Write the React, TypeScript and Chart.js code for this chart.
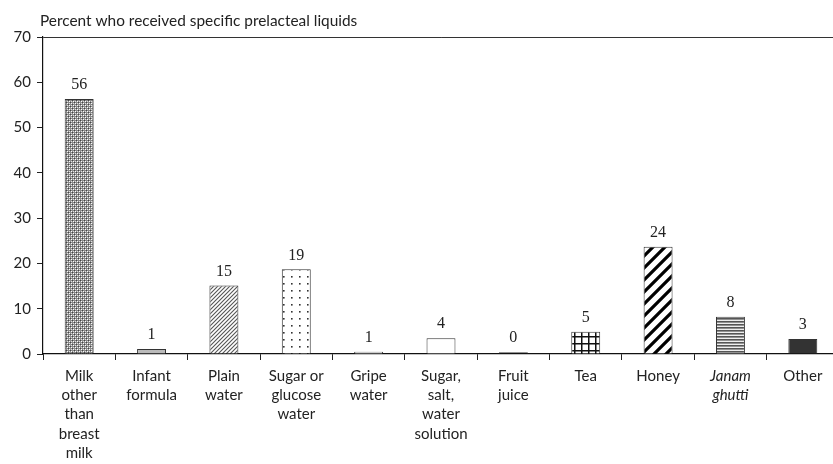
import React, { useEffect, useRef } from "react";
import { Chart, registerables } from "chart.js";

Chart.register(...registerables);

const categories: string[][] = [
  ["Milk", "other", "than", "breast", "milk"],
  ["Infant", "formula"],
  ["Plain", "water"],
  ["Sugar or", "glucose", "water"],
  ["Gripe", "water"],
  ["Sugar,", "salt,", "water", "solution"],
  ["Fruit", "juice"],
  ["Tea"],
  ["Honey"],
  ["Janam", "ghutti"],
  ["Other"],
];
const values: number[] = [56.3, 1.1, 15.1, 18.7, 0.5, 3.5, 0.4, 4.9, 23.7, 8.2, 3.3];
const valueLabels: string[] = ["56", "1", "15", "19", "1", "4", "0", "5", "24", "8", "3"];
const yTicks: number[] = [0, 10, 20, 30, 40, 50, 60, 70];
const titleText = "Percent who received specific prelacteal liquids";
const italicIndex = 9;

function tile(w: number, h: number, draw: (c: CanvasRenderingContext2D) => void): CanvasPattern | string {
  const cv = document.createElement("canvas");
  cv.width = w;
  cv.height = h;
  const c = cv.getContext("2d");
  if (!c) return "#888";
  draw(c);
  const p = c.createPattern(cv, "repeat");
  return p || "#888";
}

function makePatterns(): (CanvasPattern | string)[] {
  const cross = tile(4, 4, (c) => {
    c.fillStyle = "#8a8a8a";
    c.fillRect(0, 0, 4, 4);
    c.fillStyle = "#ffffff";
    c.fillRect(1, 1, 1, 1);
    c.fillRect(3, 3, 1, 1);
    c.fillStyle = "#e0e0e0";
    c.fillRect(1, 3, 1, 1);
    c.fillRect(3, 1, 1, 1);
    c.fillStyle = "#444";
    c.fillRect(0, 0, 1, 1);
    c.fillRect(2, 2, 1, 1);
  });
  const diag = tile(4, 4, (c) => {
    c.fillStyle = "#fff";
    c.fillRect(0, 0, 4, 4);
    c.strokeStyle = "#555";
    c.lineWidth = 1.1;
    c.beginPath();
    c.moveTo(0, 4);
    c.lineTo(4, 0);
    c.moveTo(-1, 1);
    c.lineTo(1, -1);
    c.moveTo(3, 5);
    c.lineTo(5, 3);
    c.stroke();
  });
  const dots = tile(8, 7, (c) => {
    c.fillStyle = "#fff";
    c.fillRect(0, 0, 8, 7);
    c.fillStyle = "#333";
    c.fillRect(3, 3, 1.6, 1.6);
  });
  const grid = tile(7, 7, (c) => {
    c.fillStyle = "#fff";
    c.fillRect(0, 0, 7, 7);
    c.fillStyle = "#111";
    c.fillRect(0, 0, 7, 1.5);
    c.fillRect(0, 0, 1.5, 7);
  });
  const s = 12;
  const bigDiag = tile(s, s, (c) => {
    c.fillStyle = "#fff";
    c.fillRect(0, 0, s, s);
    c.strokeStyle = "#000";
    c.lineWidth = 3.2;
    c.beginPath();
    c.moveTo(0, s);
    c.lineTo(s, 0);
    c.moveTo(-2, 2);
    c.lineTo(2, -2);
    c.moveTo(s - 2, s + 2);
    c.lineTo(s + 2, s - 2);
    c.stroke();
  });
  const horiz = tile(3, 3, (c) => {
    c.fillStyle = "#eee";
    c.fillRect(0, 0, 3, 3);
    c.fillStyle = "#555";
    c.fillRect(0, 0, 3, 1.6);
  });
  return [cross, "#bbbbbb", diag, dots, "#ffffff", "#ffffff", "#111111", grid, bigDiag, horiz, "#333333"];
}

export default function App() {
  const ref = useRef<HTMLCanvasElement | null>(null);
  useEffect(() => {
    if (!ref.current) return;
    const fills = makePatterns();
    const labelPlugin = {
      id: "valueLabels",
      afterDatasetsDraw(chart: any) {
        const ctx = chart.ctx;
        const meta = chart.getDatasetMeta(0);
        ctx.save();
        ctx.fillStyle = "#222";
        ctx.font = "16px 'Liberation Serif', serif";
        ctx.textAlign = "center";
        ctx.textBaseline = "bottom";
        meta.data.forEach((bar: any, i: number) => {
          ctx.fillText(valueLabels[i], bar.x, bar.y - 6);
        });
        ctx.font = "15.4px Lato, sans-serif";
        ctx.textAlign = "left";
        ctx.textBaseline = "alphabetic";
        ctx.fillText(titleText, chart.chartArea.left - 3, chart.chartArea.top - 11);
        ctx.restore();
      },
    };
    const chart = new Chart(ref.current, {
      type: "bar",
      data: {
        labels: categories,
        datasets: [
          {
            data: values,
            backgroundColor: fills as any,
            borderColor: "#333",
            borderWidth: 1,
            barPercentage: 0.4,
            categoryPercentage: 1,
          },
        ],
      },
      options: {
        animation: false,
        responsive: false,
        maintainAspectRatio: false,
        layout: { padding: { top: 37, right: 21, left: 0, bottom: 0 } },
        plugins: { legend: { display: false }, tooltip: { enabled: false }, title: { display: false } },
        scales: {
          x: {
            afterFit: (scale: any) => {
              scale.height = 110;
            },
            grid: {
              display: true,
              drawOnChartArea: false,
              drawTicks: true,
              tickLength: 6,
              tickColor: "#222",
              offset: true,
            },
            border: { display: true, color: "#111", width: 1.2 },
            ticks: {
              color: "#222",
              padding: 7,
              maxRotation: 0,
              autoSkip: false,
              font: (ctx: any) => ({
                family: "Lato, sans-serif",
                size: 15,
                lineHeight: 1.27,
                style: ctx.index === italicIndex ? "italic" : "normal",
              }),
            },
          },
          y: {
            min: 0,
            max: 70,
            afterFit: (scale: any) => {
              scale.width = 43;
            },
            afterBuildTicks: (scale: any) => {
              scale.ticks = yTicks.map((v) => ({ value: v }));
            },
            grid: {
              drawTicks: true,
              tickLength: 6,
              tickColor: "#222",
              color: (ctx: any) => (ctx.tick && ctx.tick.value === 70 ? "#333" : "rgba(0,0,0,0)"),
            },
            border: { display: true, color: "#111", width: 1.2 },
            ticks: {
              color: "#222",
              padding: 6,
              font: { family: "Lato, sans-serif", size: 15 },
            },
          },
        },
      },
      plugins: [labelPlugin],
    });
    return () => chart.destroy();
  }, []);
  return (
    <div style={{ position: "absolute", left: 0, top: 0, width: 860, height: 464, overflow: "hidden" }}>
      <canvas ref={ref} width={860} height={464} style={{ width: 860, height: 464 }} />
    </div>
  );
}
